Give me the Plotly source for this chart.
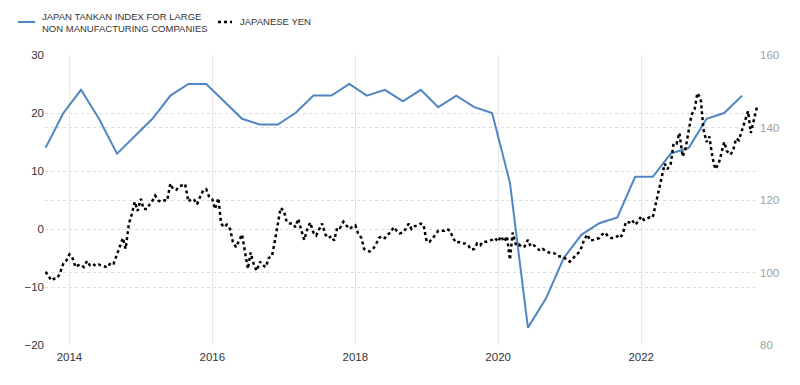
import pandas as pd
import plotly.graph_objects as go

# Japan Tankan index for large non-manufacturing companies (quarterly, Sep 2013 - Jun 2023)
tankan_start = "2013-09-01"
tankan_values = [
    14, 20,
    24, 19, 13, 16,
    19, 23, 25, 25,
    22, 19, 18, 18,
    20, 23, 23, 25,
    23, 24, 22, 24,
    21, 23, 21, 20,
    8, -17, -12, -5,
    -1, 1, 2, 9,
    9, 13, 14, 19,
    20, 23,
]

# Japanese yen (USDJPY), semi-monthly readings (1st and 15th), Sep 2013 - Aug 2023
yen_start = "2013-09-01"
yen_values = [
    100.2, 99.0, 97.8, 98.3, 98.5, 100.0, 102.5, 103.2,                      # 2013 Sep-Dec
    105.0, 104.2, 101.5, 102.0, 102.2, 101.5, 103.2, 102.0, 102.4, 101.8, 102.2, 101.9,
    101.6, 101.4, 102.8, 102.5, 105.0, 107.2, 109.5, 106.5, 113.5, 116.0, 119.5, 117.0,  # 2014
    120.3, 117.5, 117.5, 118.8, 119.8, 121.2, 119.8, 119.5, 119.9, 119.8, 124.5, 123.0,
    122.8, 123.7, 124.2, 124.4, 119.5, 120.3, 120.0, 118.8, 121.0, 122.6, 123.0, 121.0,  # 2015
    120.2, 117.5, 120.5, 113.5, 112.5, 113.2, 112.0, 108.5, 107.0, 108.8, 110.5, 106.0,
    101.0, 105.5, 102.0, 100.5, 103.0, 102.0, 101.5, 104.0, 104.5, 108.5, 114.0, 117.8,  # 2016
    117.0, 114.0, 113.5, 113.5, 112.5, 114.8, 111.5, 109.0, 112.0, 113.8, 111.0, 110.2,
    112.0, 113.5, 110.5, 109.5, 110.0, 108.8, 112.5, 112.3, 114.0, 113.0, 112.0, 112.5,  # 2017
    113.0, 110.8, 109.5, 106.5, 106.2, 105.8, 106.5, 107.5, 109.5, 110.0, 109.5, 110.5,
    111.0, 112.5, 111.5, 110.8, 111.0, 112.0, 113.5, 112.0, 112.8, 113.0, 113.5, 113.2,  # 2018
    108.5, 108.5, 109.5, 110.5, 111.5, 111.5, 111.5, 112.0, 111.5, 109.5, 108.2, 108.4,
    108.0, 108.0, 107.5, 106.3, 106.5, 108.0, 107.5, 108.5, 108.5, 108.8, 109.0, 109.5,  # 2019
    108.5, 110.0, 108.5, 110.0, 103.5, 111.0, 107.5, 107.8, 107.0, 107.2, 109.0, 107.2,
    107.5, 107.0, 106.0, 106.5, 106.0, 105.5, 105.5, 105.3, 104.5, 104.5, 104.3, 103.5,  # 2020
    103.0, 103.8, 104.8, 105.5, 106.8, 109.0, 110.5, 108.8, 109.0, 109.3, 109.5, 110.5,
    111.0, 110.0, 109.5, 109.5, 110.0, 109.5, 111.0, 114.0, 113.8, 114.5, 113.2, 114.0,  # 2021
    115.5, 114.5, 115.0, 115.3, 115.2, 118.5, 122.5, 126.0, 130.0, 128.5, 130.0, 135.5,
    135.5, 138.5, 132.0, 134.0, 139.0, 143.5, 145.0, 149.5, 148.0, 139.5, 136.0, 137.5,  # 2022
    131.5, 128.5, 130.0, 133.0, 136.0, 133.5, 132.5, 133.5, 137.0, 136.5, 139.5, 141.5,
    144.5, 138.5, 142.5, 145.5,                                              # 2023
]

tankan_dates = pd.date_range(tankan_start, periods=len(tankan_values), freq="3MS")
yen_dates = pd.date_range(yen_start, periods=len(yen_values), freq="SMS")

tick_years = ["2014-01-01", "2016-01-01", "2018-01-01", "2020-01-01", "2022-01-01"]
tick_text = ["2014", "2016", "2018", "2020", "2022"]

tankan_name = "JAPAN TANKAN INDEX FOR LARGE<br>NON MANUFACTURING COMPANIES"
yen_name = "JAPANESE YEN"
tankan_color = "#4f86c2"
yen_color = "#000000"

fig = go.Figure()
fig.add_trace(go.Scatter(
    x=tankan_dates, y=tankan_values, mode="lines", name=tankan_name,
    line=dict(color=tankan_color, width=2), yaxis="y", showlegend=False,
))
fig.add_trace(go.Scatter(
    x=yen_dates, y=yen_values, mode="lines", name=yen_name,
    line=dict(color=yen_color, width=2.5, dash="dot"), yaxis="y2", showlegend=False,
))

# Legend drawn by hand (paper coordinates relative to plot area)
leg_y = 1.1138
leg_font = dict(family="Arial, Liberation Sans", size=9.5, color="#333333")
shapes = [
    dict(type="line", xref="paper", yref="paper", x0=-0.0378, x1=-0.0140, y0=leg_y, y1=leg_y,
         line=dict(color=tankan_color, width=2)),
    dict(type="line", xref="paper", yref="paper", x0=0.2423, x1=0.2619, y0=leg_y, y1=leg_y,
         line=dict(color=yen_color, width=2.5, dash="dot")),
]
annotations = [
    dict(text="JAPAN TANKAN INDEX FOR LARGE", xref="paper", yref="paper", x=-0.0070, y=1.1316,
         xanchor="left", yanchor="middle", showarrow=False, font=leg_font),
    dict(text="NON MANUFACTURING COMPANIES", xref="paper", yref="paper", x=-0.0070, y=1.0920,
         xanchor="left", yanchor="middle", showarrow=False, font=leg_font),
    dict(text=yen_name, xref="paper", yref="paper", x=0.2703, y=leg_y,
         xanchor="left", yanchor="middle", showarrow=False, font=leg_font),
]

fig.update_layout(
    width=792, height=377,
    margin=dict(l=37, r=41, t=47, b=40, autoexpand=False),
    paper_bgcolor="white", plot_bgcolor="white",
    font=dict(family="Arial, Liberation Sans", size=11, color="#333333"),
    showlegend=False,
    shapes=shapes, annotations=annotations,
    xaxis=dict(
        type="date", range=["2013-08-29", "2023-08-26"],
        tickvals=tick_years, ticktext=tick_text,
        showgrid=True, gridcolor="#e8e8e8", gridwidth=1,
        zeroline=False, showline=False, ticks="", ticklabelstandoff=3,
        tickfont=dict(size=11.5, color="#333333"),
    ),
    yaxis=dict(
        range=[-20, 30], tickvals=[-20, -10, 0, 10, 20, 30],
        showgrid=True, gridcolor="#dddddd", griddash="dot", gridwidth=1,
        zeroline=False, showline=False, ticks="",
        tickfont=dict(size=11.5, color="#333333"),
    ),
    yaxis2=dict(
        range=[80, 160], tickvals=[80, 100, 120, 140, 160],
        overlaying="y", side="right",
        showgrid=True, gridcolor="#dddddd", griddash="dot", gridwidth=1,
        zeroline=False, showline=False, ticks="",
        tickfont=dict(size=11.5, color="#a0a0a0"),
    ),
)

fig.write_html("out.html")
